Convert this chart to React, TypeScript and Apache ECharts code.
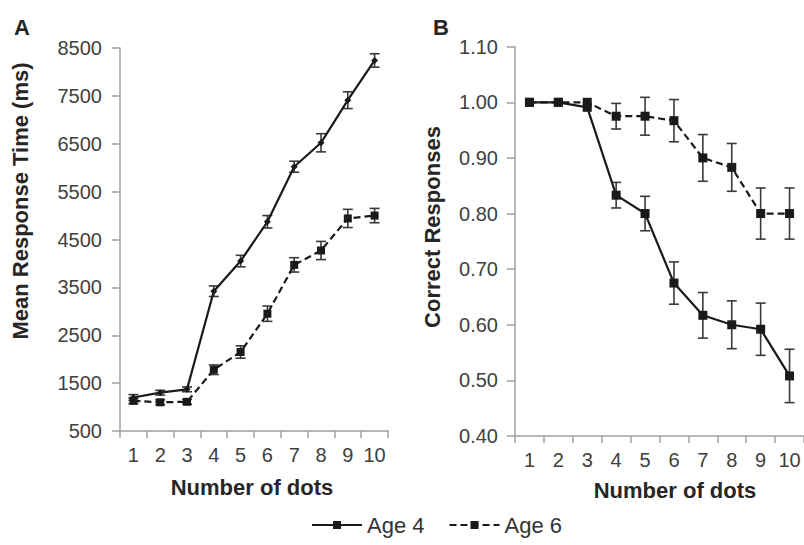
import React, { useEffect, useRef } from "react";
import * as echarts from "echarts";

const dots = ["1", "2", "3", "4", "5", "6", "7", "8", "9", "10"];
const rtAge4 = [1200, 1300, 1370, 3420, 4050, 4870, 6020, 6520, 7410, 8240];
const rtAge4Err = [60, 50, 50, 110, 120, 130, 115, 190, 175, 140];
const rtAge6 = [1130, 1100, 1110, 1780, 2150, 2950, 3970, 4270, 4940, 5000];
const rtAge6Err = [60, 50, 50, 100, 130, 160, 150, 190, 190, 150];
const accAge4 = [1.0, 1.0, 0.991, 0.833, 0.8, 0.675, 0.617, 0.6, 0.592, 0.508];
const accAge4Err = [0, 0, 0, 0.023, 0.031, 0.038, 0.041, 0.043, 0.047, 0.048];
const accAge6 = [1.0, 1.0, 1.0, 0.975, 0.975, 0.967, 0.9, 0.883, 0.8, 0.8];
const accAge6Err = [0, 0, 0, 0.023, 0.034, 0.038, 0.042, 0.043, 0.046, 0.046];
const rtTicks = { min: 500, max: 8500, interval: 1000 };
const accTicks = { min: 0.4, max: 1.1, interval: 0.1 };

const FONT = "'Liberation Sans', Arial, sans-serif";
const AXIS = "#a0a0a0";
const INK = "#1a1a1a";

function errData(vals: number[], errs: number[]) {
  return vals.map((v, i) => [i, v - errs[i], v + errs[i]]);
}

function errSeries(vals: number[], errs: number[], idx: number) {
  return {
    type: "custom",
    xAxisIndex: idx,
    yAxisIndex: idx,
    z: 2,
    silent: true,
    data: errData(vals, errs),
    renderItem: (params: any, api: any) => {
      const x = api.value(0);
      const lo = api.coord([x, api.value(1)]);
      const hi = api.coord([x, api.value(2)]);
      if (Math.abs(lo[1] - hi[1]) < 1) return { type: "group", children: [] };
      const s = { stroke: "#3a3a3a", lineWidth: 1.6 };
      const w = 5;
      return {
        type: "group",
        children: [
          { type: "line", shape: { x1: lo[0], y1: lo[1], x2: hi[0], y2: hi[1] }, style: s },
          { type: "line", shape: { x1: lo[0] - w, y1: lo[1], x2: lo[0] + w, y2: lo[1] }, style: s },
          { type: "line", shape: { x1: hi[0] - w, y1: hi[1], x2: hi[0] + w, y2: hi[1] }, style: s },
        ],
      };
    },
  };
}

function lineSeries(name: string, data: number[], idx: number, dashed: boolean, symbol: string, size: number) {
  return {
    name,
    type: "line",
    xAxisIndex: idx,
    yAxisIndex: idx,
    data,
    z: 3,
    symbol,
    symbolSize: size,
    showAllSymbol: true,
    lineStyle: { color: INK, width: 2.2, type: dashed ? [7, 4] : "solid" },
    itemStyle: { color: INK, borderWidth: 0 },
  };
}

function xAxis(idx: number) {
  return {
    type: "category",
    gridIndex: idx,
    data: dots,
    boundaryGap: true,
    axisLine: { lineStyle: { color: AXIS, width: 1.5 } },
    axisTick: { show: true, length: 7, interval: 0, alignWithLabel: false, lineStyle: { color: AXIS, width: 1.5 } },
    axisLabel: { interval: 0, fontSize: 20, color: "#404040", margin: 14, fontFamily: FONT },
    splitLine: { show: false },
  };
}

function yAxis(idx: number, t: any, fmt: (v: number) => string, margin: number) {
  return {
    type: "value",
    gridIndex: idx,
    min: t.min,
    max: t.max,
    interval: t.interval,
    axisLine: { show: true, lineStyle: { color: AXIS, width: 1.5 } },
    axisTick: { show: true, length: 8, lineStyle: { color: AXIS, width: 1.5 } },
    axisLabel: { fontSize: 20, color: "#404040", margin, fontFamily: FONT, formatter: fmt },
    splitLine: { show: false },
  };
}

function title(text: string, x: number, y: number, rot: number, size = 22) {
  return {
    type: "text",
    x,
    y,
    rotation: rot,
    style: {
      text,
      font: `bold ${size}px ${FONT}`,
      fill: "#262626",
      align: "center",
      verticalAlign: "middle",
    },
  };
}

export default function App() {
  const ref = useRef<HTMLDivElement>(null);
  useEffect(() => {
    if (!ref.current) return;
    const chart = echarts.init(ref.current, undefined, { renderer: "svg" });
    chart.setOption({
      animation: false,
      backgroundColor: "#ffffff",
      textStyle: { fontFamily: FONT },
      grid: [
        { left: 120, top: 48, width: 268, height: 383 },
        { left: 515, top: 46.7, width: 292, height: 389.3 },
      ],
      xAxis: [xAxis(0), xAxis(1)],
      yAxis: [
        yAxis(0, rtTicks, (v: number) => String(Math.round(v)), 18),
        yAxis(1, accTicks, (v: number) => v.toFixed(2), 17),
      ],
      legend: {
        data: ["Age 4", "Age 6"],
        left: 306,
        top: 509,
        itemWidth: 50,
        itemHeight: 10,
        itemGap: 24,
        textStyle: { fontSize: 22, color: "#333333", fontFamily: FONT },
      },
      graphic: [
        title("A", 22, 27, 0),
        title("B", 441, 27, 0),
        title("Mean Response Time (ms)", 20, 201, Math.PI / 2),
        title("Correct Responses", 432, 227, Math.PI / 2),
        title("Number of dots", 252, 487, 0),
        title("Number of dots", 675, 490, 0),
      ],
      series: [
        errSeries(accAge4, accAge4Err, 1),
        errSeries(accAge6, accAge6Err, 1),
        errSeries(rtAge4, rtAge4Err, 0),
        errSeries(rtAge6, rtAge6Err, 0),
        lineSeries("Age 4", accAge4, 1, false, "rect", 9),
        lineSeries("Age 6", accAge6, 1, true, "rect", 9),
        lineSeries("Age 4", rtAge4, 0, false, "diamond", 7),
        lineSeries("Age 6", rtAge6, 0, true, "rect", 8),
      ],
    });
    return () => chart.dispose();
  }, []);
  return (
    <div
      ref={ref}
      style={{ position: "fixed", left: 0, top: 0, width: 804, height: 545, background: "#fff" }}
    />
  );
}
